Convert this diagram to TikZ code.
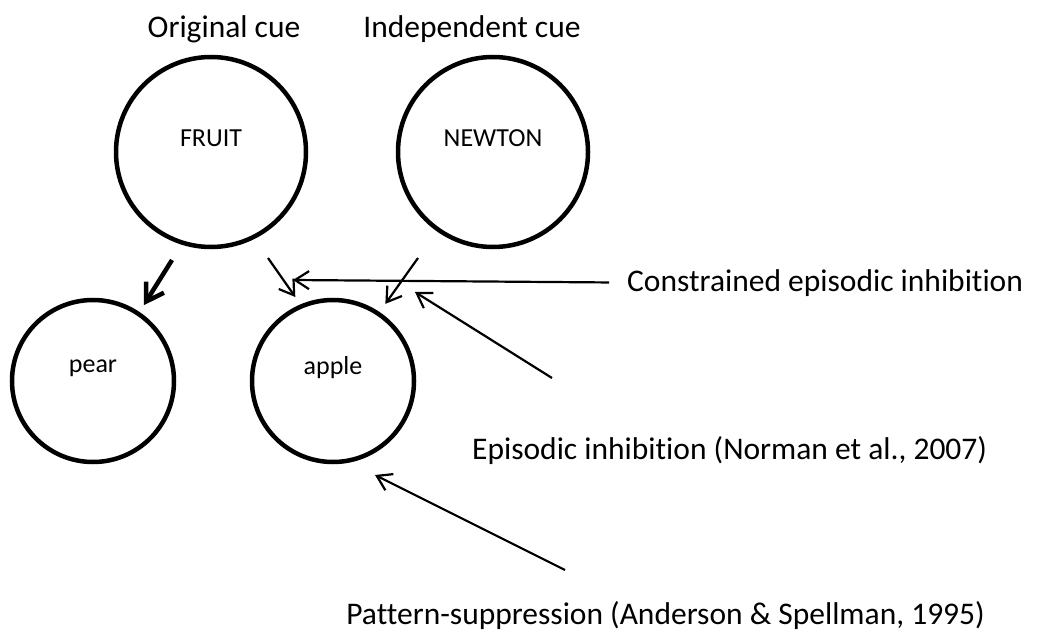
\documentclass[tikz,border=0pt]{standalone}
\usepackage{fontspec}
\setmainfont{Carlito}[Ligatures=NoCommon]
\usetikzlibrary{arrows.meta,positioning}

\begin{document}
\begin{tikzpicture}[
  x=1pt,y=-1pt,
  word/.style={draw=black,circle,line width=4.5pt,inner sep=0pt},
  big/.style={word,minimum size=190pt},
  small/.style={word,minimum size=162pt},
  inside/.style={font=\fontsize{26}{30}\selectfont},
  tag/.style={font=\fontsize{31.5}{36}\selectfont,inner sep=0pt},
  arr/.style={-{Straight Barb[length=14pt,width=18pt]},line width=2.2pt},
  heavy/.style={-{Straight Barb[length=17pt,width=21pt]},line width=4.5pt}
]
\useasboundingbox (0,0) rectangle (1038,636);
% cues and targets
\node[big,label={[inside,yshift=14pt]center:FRUIT}] (fruit) at (211,152) {};
\node[big,label={[inside,yshift=14pt]center:NEWTON}] (newton) at (493,152) {};
\node[small,label={[inside,yshift=13pt]center:pear}] (pear) at (93,381) {};
\node[small,label={[inside,yshift=13pt]center:apple}] (apple) at (333,381) {};
\node[tag,anchor=base] (orig) at (224,38) {Original cue};
\node[tag,anchor=base] (indep) at (472,38) {Independent cue};
\node[tag,anchor=base west] (constr) at (627,291) {Constrained episodic inhibition};
\node[tag,anchor=base west] (epis) at (472,459) {Episodic inhibition (Norman et al., 2007)};
\node[tag,anchor=base east] (patt) at (985,624) {Pattern-suppression (Anderson \& Spellman, 1995)};
% free ends
\coordinate (fp) at (172,260);
\coordinate (fa) at (268,258);
\coordinate (na) at (418,258);
\coordinate (link) at (293,280);
\coordinate (nlink) at (415,292);
\coordinate (ep) at (552,378);
\coordinate (pp) at (565,570);
\coordinate (ptip) at (375,475);
\draw[heavy,shorten >=8pt] (fp) -- (pear.56);
\draw[arr,shorten >=9pt] (fa) -- (apple.113);
\draw[arr,shorten >=10pt] (na) -- (apple.56);
\draw[arr,shorten <=18pt] (constr.west) -- (link);
\draw[arr] (ep) -- (nlink);
\draw[arr] (pp) -- (ptip);
\end{tikzpicture}
\end{document}
